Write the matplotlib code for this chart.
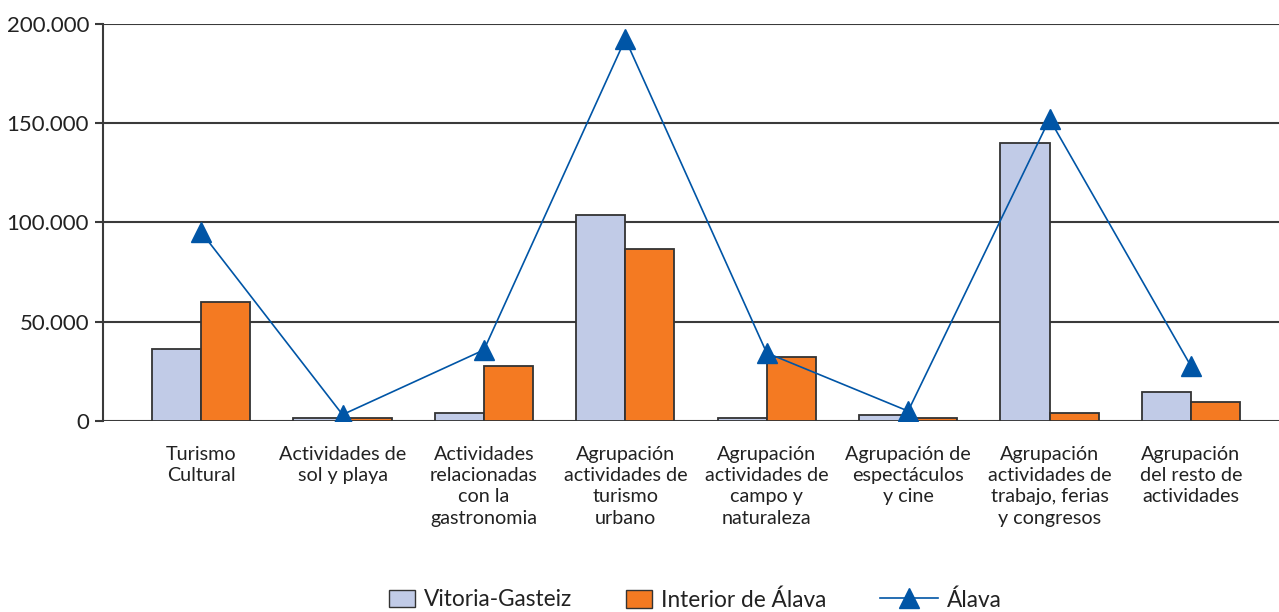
import numpy as np
import matplotlib
matplotlib.use("Agg")
import matplotlib.pyplot as plt
from matplotlib.ticker import FuncFormatter
from matplotlib.lines import Line2D
from matplotlib.patches import Patch

plt.rcParams['font.family'] = ['Lato', 'DejaVu Sans']

categorias = ["Turismo\nCultural",
              "Actividades de\nsol y playa",
              "Actividades\nrelacionadas\ncon la\ngastronomia",
              "Agrupación\nactividades de\nturismo\nurbano",
              "Agrupación\nactividades de\ncampo y\nnaturaleza",
              "Agrupación de\nespectáculos\ny cine",
              "Agrupación\nactividades de\ntrabajo, ferias\ny congresos",
              "Agrupación\ndel resto de\nactividades"]

vitoria = [36300, 1400, 4200, 103800, 1400, 3000, 140200, 14500]
interior = [59800, 1400, 27700, 86700, 32100, 1500, 4200, 9700]
alava = [95200, 3200, 35800, 192400, 34300, 5000, 152100, 27700]

c_vg = "#c1cbe7"
c_ia = "#f47a22"
c_al = "#0055a6"
edge = "#333333"

fig = plt.figure(figsize=(12.79, 6.12), dpi=100)
ax = fig.add_axes([103/1279, 1 - 421/612, 1176/1279, 397/612])

x = np.arange(len(categorias))
w = 0.347
ax.bar(x - w/2, vitoria, w, color=c_vg, edgecolor=edge, linewidth=1.3, zorder=3)
ax.bar(x + w/2, interior, w, color=c_ia, edgecolor=edge, linewidth=1.3, zorder=3)
ax.plot(x, alava, color=c_al, lw=1.2, marker="^", ms=14, mec=c_al, mfc=c_al, zorder=4)

ax.set_ylim(0, 200000)
ax.set_xlim(-0.694, 7.623)
ax.set_yticks(np.arange(0, 200001, 50000))
ax.yaxis.set_major_formatter(FuncFormatter(lambda v, p: f"{int(v):,}".replace(",", ".")))
ax.grid(axis="y", color="#3a3a3a", lw=1.5, zorder=1)
ax.set_axisbelow(True)
for s in ["top", "right", "bottom"]:
    ax.spines[s].set_visible(False)
ax.spines["left"].set_color("#3a3a3a")
ax.spines["left"].set_linewidth(1.5)
ax.tick_params(axis="y", length=6, width=1.5, color="#3a3a3a", labelsize=16, pad=4, labelcolor="#222222")
ax.set_xticks(x)
ax.set_xticklabels(categorias, fontsize=14.2, color="#222222", linespacing=1.3, va="top")
ax.tick_params(axis="x", length=0, pad=18)

# leyenda: una entrada por cada serie, colocadas a mano
ly = 1 - 600/612
entradas = [
    (Patch(facecolor=c_vg, edgecolor=edge, label="Vitoria-Gasteiz"), 389, 1.15),
    (Patch(facecolor=c_ia, edgecolor=edge, label="Interior de Álava"), 626, 1.15),
    (Line2D([], [], color=c_al, lw=1.2, marker="^", ms=14, label="Álava"), 880, 2.55),
]
for h, px, hl in entradas:
    leg = fig.legend(handles=[h], loc="center left", bbox_to_anchor=(px/1279, ly),
                     frameon=False, fontsize=16.3, handlelength=hl, handleheight=0.8,
                     handletextpad=0.4, borderpad=0, borderaxespad=0)
    for t in leg.get_texts():
        t.set_color("#222222")

fig.savefig("out.png", dpi=100)
